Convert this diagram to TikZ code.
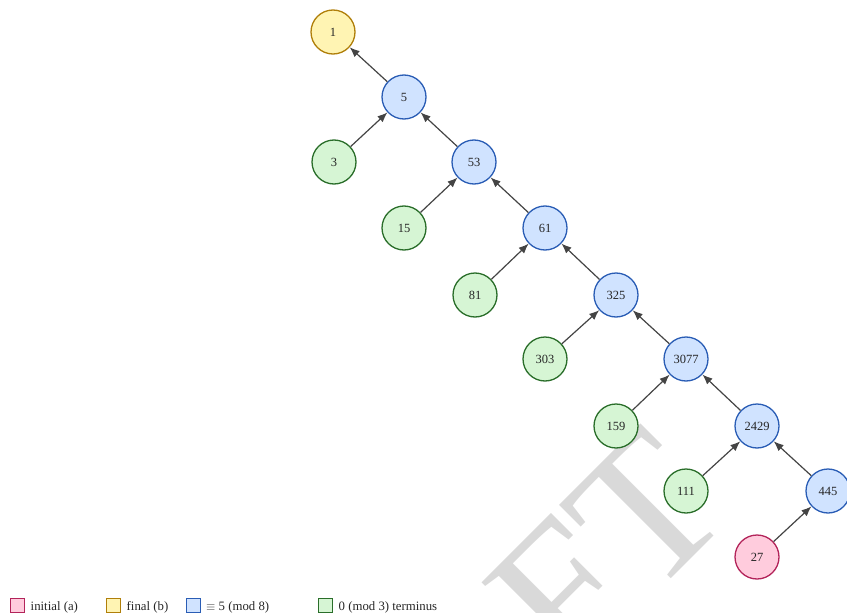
\documentclass[tikz,border=0pt]{standalone}
\usepackage{fontspec}
\setmainfont{Liberation Serif}
\usetikzlibrary{arrows.meta}

\definecolor{finalfill}{HTML}{FFF4B3}
\definecolor{finaldraw}{HTML}{B07F0A}
\definecolor{modfill}{HTML}{D0E3FF}
\definecolor{moddraw}{HTML}{2A5DB5}
\definecolor{termfill}{HTML}{D6F5D4}
\definecolor{termdraw}{HTML}{2A6E2A}
\definecolor{initfill}{HTML}{FFCCDD}
\definecolor{initdraw}{HTML}{B3245A}
\definecolor{edgecol}{HTML}{444444}
\definecolor{stampgray}{HTML}{D9D9D9}

\tikzset{
  numnode/.style={circle, minimum size=44pt, inner sep=0pt, line width=1.3pt,
    font=\fontsize{12.5}{14}\selectfont, text=black!85},
  finalnode/.style={numnode, fill=finalfill, draw=finaldraw},
  modnode/.style={numnode, fill=modfill, draw=moddraw},
  termnode/.style={numnode, fill=termfill, draw=termdraw},
  initnode/.style={numnode, fill=initfill, draw=initdraw},
  link/.style={draw=edgecol, line width=1.2pt,
    -{Latex[length=10pt,width=8pt]}},
  keybox/.style={minimum size=14pt, inner sep=0pt, line width=0.9pt},
  keytext/.style={anchor=base west, inner sep=0pt,
    font=\fontsize{12.8}{14}\selectfont, text=black!85},
}

\begin{document}
\begin{tikzpicture}[x=1pt, y=-1pt]
\useasboundingbox (0,0) rectangle (847,613);

% faint stamp lettering behind the tree
\begin{scope}
  \clip (0,0) rectangle (847,613);
  \node[rotate=45, anchor=base, inner sep=0pt, text=stampgray,
        font=\fontsize{200}{200}\selectfont] (stamp) at (504,746) {DRAFT};
\end{scope}

% tree nodes
\node[finalnode] (n1)    at (333,32)  {1};
\node[modnode]   (n5)    at (404,97)  {5};
\node[termnode]  (n3)    at (334,162) {3};
\node[modnode]   (n53)   at (474,162) {53};
\node[termnode]  (n15)   at (404,228) {15};
\node[modnode]   (n61)   at (545,228) {61};
\node[termnode]  (n81)   at (475,295) {81};
\node[modnode]   (n325)  at (616,295) {325};
\node[termnode]  (n303)  at (545,359) {303};
\node[modnode]   (n3077) at (686,359) {3077};
\node[termnode]  (n159)  at (616,426) {159};
\node[modnode]   (n2429) at (757,426) {2429};
\node[termnode]  (n111)  at (686,491) {111};
\node[modnode]   (n445)  at (828,491) {445};
\node[initnode]  (n27)   at (757,557) {27};

% edges point from each value to its successor
\draw[link] (n5) -- (n1);
\draw[link] (n3) -- (n5);
\draw[link] (n53) -- (n5);
\draw[link] (n15) -- (n53);
\draw[link] (n61) -- (n53);
\draw[link] (n81) -- (n61);
\draw[link] (n325) -- (n61);
\draw[link] (n303) -- (n325);
\draw[link] (n3077) -- (n325);
\draw[link] (n159) -- (n3077);
\draw[link] (n2429) -- (n3077);
\draw[link] (n111) -- (n2429);
\draw[link] (n445) -- (n2429);
\draw[link] (n27) -- (n445);

% legend
\node[keybox, fill=initfill, draw=initdraw]   (k1) at (17.5,605) {};
\node[keytext] (t1) at (30.5,610.5) {initial (a)};
\node[keybox, fill=finalfill, draw=finaldraw] (k2) at (113.5,605) {};
\node[keytext] (t2) at (126.5,610.5) {final (b)};
\node[keybox, fill=modfill, draw=moddraw]     (k3) at (193,605) {};
\node[keytext] (t3) at (206,610.5) {$\equiv$ 5 (mod 8)};
\node[keybox, fill=termfill, draw=termdraw]   (k4) at (325.5,605) {};
\node[keytext] (t4) at (338.5,610.5) {0 (mod 3) terminus};
\end{tikzpicture}
\end{document}
